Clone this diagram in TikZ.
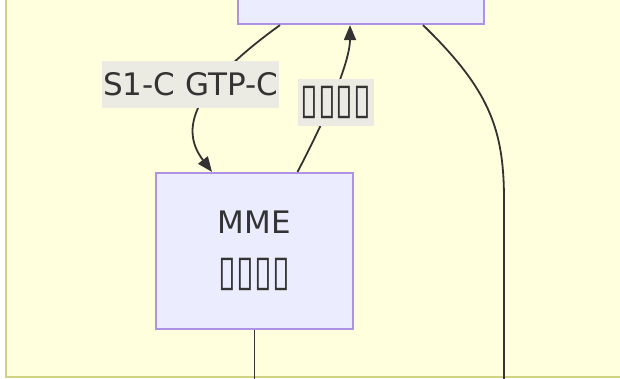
\documentclass[tikz,border=0pt]{standalone}
\usepackage{fontspec}
\setmainfont{DejaVu Sans}
\usetikzlibrary{arrows.meta}
\definecolor{clusterbg}{HTML}{FFFFDE}
\definecolor{clusterline}{HTML}{D2D283}
\definecolor{nodefill}{HTML}{ECECFF}
\definecolor{nodeline}{HTML}{AE92E6}
\definecolor{ink}{HTML}{333333}
\definecolor{labelbg}{HTML}{EBEBE4}
% placeholder boxes, drawn taller than the plain glyph
\newcommand{\blanks}{\scalebox{0.95}[1.25]{\fontsize{34}{37}\selectfont ▯▯▯▯}}

\begin{document}
\begin{tikzpicture}[x=1pt,y=-1pt,
  box/.style={draw=nodeline, line width=2.2pt, fill=nodefill, inner sep=0pt,
    text=ink, font=\fontsize{31}{52}\selectfont, align=center},
  link/.style={draw=ink, line width=1.8pt},
  tip/.style={-{Triangle[length=15pt,width=12pt]}},
  elabel/.style={fill=labelbg, text=ink, font=\fontsize{31}{37}\selectfont,
    inner xsep=1pt, inner ysep=0pt, minimum height=47pt}]
\useasboundingbox (0,0) rectangle (620,378);
\begin{scope}
\clip (0,0) rectangle (620,378);
% subgraph background and its frame
\fill[white] (0,0) rectangle (620,378);
\fill[clusterbg] (6,-5) rectangle (625,377);
\draw[clusterline, line width=2.6pt] (6,-5) -- (6,377) -- (625,377);

% nodes
\node[box, minimum width=246pt, minimum height=50pt] (gw) at (361,-1) {};
\node[box, minimum width=197pt, minimum height=156pt] (mme) at (254.5,251)
  {MME\\[0pt]\blanks};

% loose ends leaving the frame
\coordinate (down1) at (254.5,400);
\coordinate (down2) at (504,400);

% connectors
\draw[link, tip] ([xshift=-81pt]gw.south) .. controls (190,90) and (180,130) .. ([xshift=-42.5pt]mme.north);
\draw[link, tip] ([xshift=43pt]mme.north) .. controls (330,110) and (350,60) .. ([xshift=-11pt]gw.south);
\draw[link] ([xshift=62pt]gw.south) .. controls (490,90) and (504,130) .. (504,200) -- (down2);
\draw[link] (mme.south) -- (down1);

% connector labels
\node[elabel] (l1) at (190.5,84) {S1-C GTP-C};
\node[elabel, inner xsep=2pt, minimum width=76pt] (l2) at (336,102) {\blanks};
\end{scope}
\end{tikzpicture}
\end{document}
